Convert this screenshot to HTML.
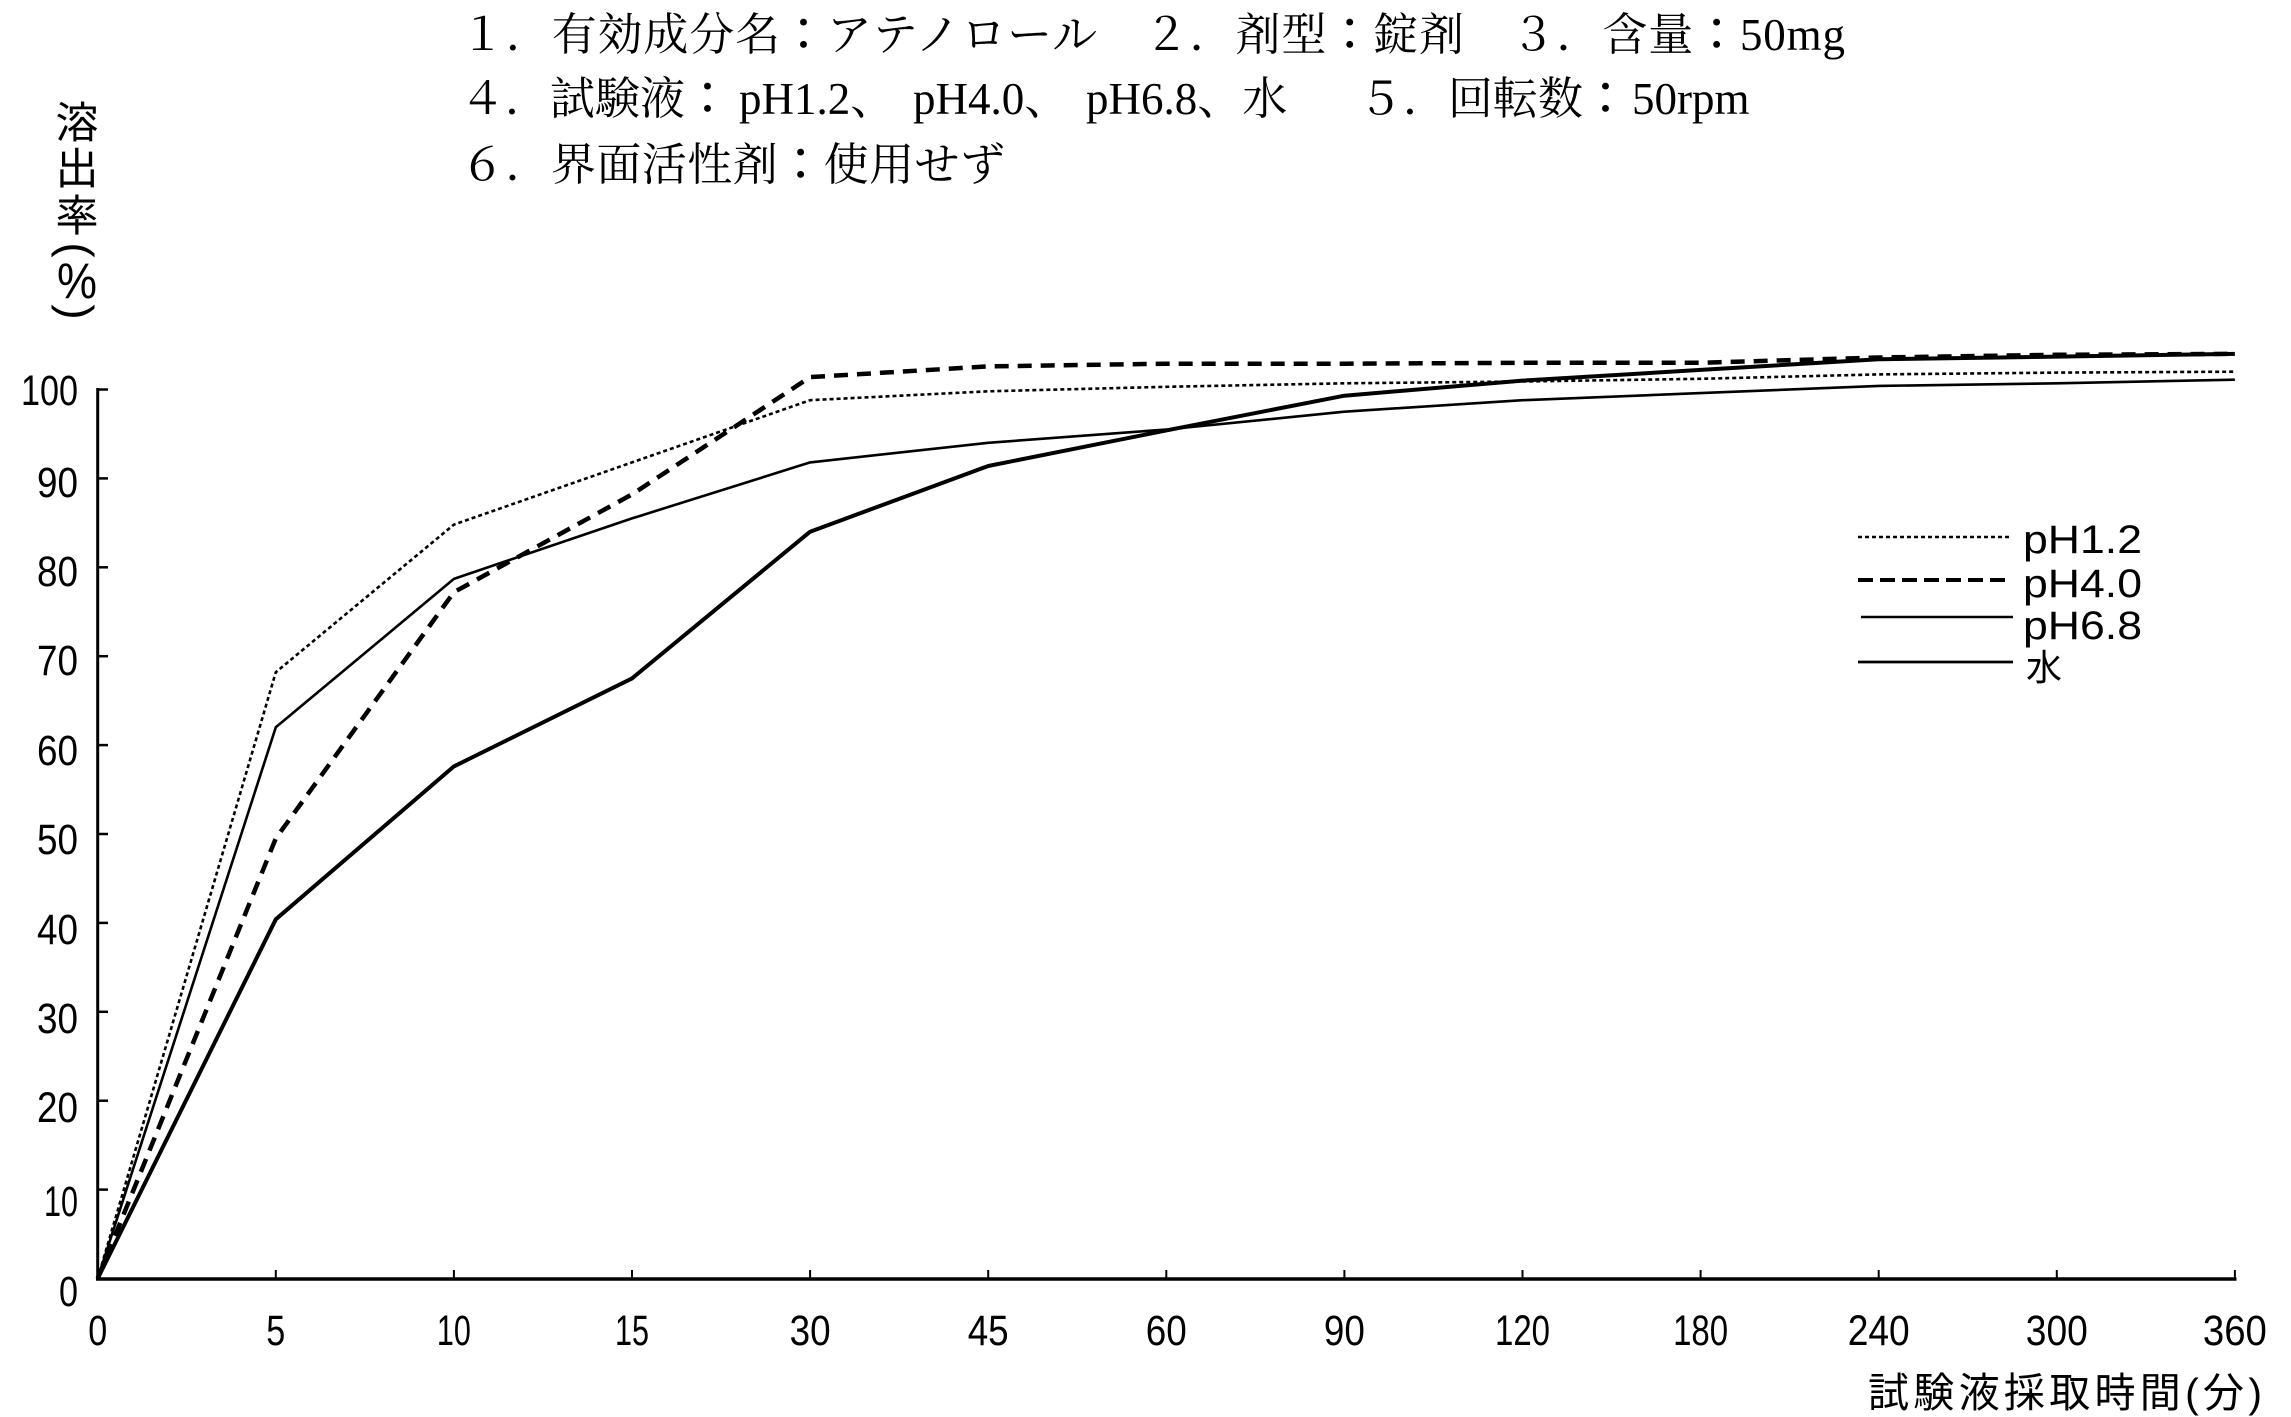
<!DOCTYPE html>
<html>
<head>
<meta charset="utf-8">
<style>
html,body{margin:0;padding:0;background:#fff;}
svg{display:block;}
.t{font-family:"Liberation Serif","Noto Serif CJK SC",serif;font-size:45px;fill:#000;}
.c{font-family:"Noto Sans CJK JP",sans-serif;}
.n{font-family:"Liberation Sans",sans-serif;font-size:43px;fill:#000;}
.j{font-family:"Liberation Sans","Noto Sans CJK JP",sans-serif;fill:#000;}
</style>
</head>
<body>
<svg width="2291" height="1417" viewBox="0 0 2291 1417" xmlns="http://www.w3.org/2000/svg">
<rect x="0" y="0" width="2291" height="1417" fill="#fff"/>

<!-- Title lines -->
<text class="t" x="460" y="50" textLength="1385" lengthAdjust="spacing">１．有効成分名<tspan class="c">：</tspan>アテノロール　２．剤型<tspan class="c">：</tspan>錠剤　３．含量<tspan class="c">：</tspan>50mg</text>
<text class="t" y="114"><tspan x="460">４．試験液</tspan><tspan class="c">：</tspan><tspan x="739">pH1.2、</tspan><tspan x="913">pH4.0、</tspan><tspan x="1086">pH6.8、水</tspan><tspan x="1358">５．回転数</tspan><tspan class="c">：</tspan><tspan x="1632">50rpm</tspan></text>
<text class="t" x="460" y="180" textLength="545" lengthAdjust="spacing">６．界面活性剤<tspan class="c">：</tspan>使用せず</text>

<!-- Y axis title (vertical) -->
<g class="j" font-size="43" text-anchor="middle">
<text x="77" y="138">溶</text>
<text x="77" y="184">出</text>
<text x="77" y="231">率</text>
</g>
<text class="j" font-size="46" text-anchor="middle" dominant-baseline="central" transform="translate(77,250) rotate(90)">(</text>
<text class="j" font-size="50" x="57" y="298" textLength="40" lengthAdjust="spacingAndGlyphs">%</text>
<text class="j" font-size="46" text-anchor="middle" dominant-baseline="central" transform="translate(77,312) rotate(90)">)</text>

<!-- Axes -->
<g stroke="#000" fill="none" stroke-linecap="butt">
<line x1="97.7" y1="388" x2="97.7" y2="1280.5" stroke-width="3"/>
<line x1="96" y1="1279" x2="2236.5" y2="1279" stroke-width="3.5"/>
<g stroke-width="2.5">
<line x1="97.7" y1="389.5" x2="108" y2="389.5"/>
<line x1="97.7" y1="478.4" x2="108" y2="478.4"/>
<line x1="97.7" y1="567.3" x2="108" y2="567.3"/>
<line x1="97.7" y1="656.2" x2="108" y2="656.2"/>
<line x1="97.7" y1="745.1" x2="108" y2="745.1"/>
<line x1="97.7" y1="834.0" x2="108" y2="834.0"/>
<line x1="97.7" y1="922.9" x2="108" y2="922.9"/>
<line x1="97.7" y1="1011.8" x2="108" y2="1011.8"/>
<line x1="97.7" y1="1100.7" x2="108" y2="1100.7"/>
<line x1="97.7" y1="1189.6" x2="108" y2="1189.6"/>
</g>
<g stroke-width="2">
<line x1="275.8" y1="1279" x2="275.8" y2="1270"/>
<line x1="453.9" y1="1279" x2="453.9" y2="1270"/>
<line x1="632.0" y1="1279" x2="632.0" y2="1270"/>
<line x1="810.1" y1="1279" x2="810.1" y2="1270"/>
<line x1="988.2" y1="1279" x2="988.2" y2="1270"/>
<line x1="1166.3" y1="1279" x2="1166.3" y2="1270"/>
<line x1="1344.4" y1="1279" x2="1344.4" y2="1270"/>
<line x1="1522.5" y1="1279" x2="1522.5" y2="1270"/>
<line x1="1700.6" y1="1279" x2="1700.6" y2="1270"/>
<line x1="1878.7" y1="1279" x2="1878.7" y2="1270"/>
<line x1="2056.8" y1="1279" x2="2056.8" y2="1270"/>
<line x1="2234.9" y1="1279" x2="2234.9" y2="1270"/>
</g>
</g>

<!-- Y tick labels -->
<g class="n" text-anchor="end">
<text x="78" y="405" textLength="57" lengthAdjust="spacingAndGlyphs">100</text>
<text x="78" y="497" textLength="41" lengthAdjust="spacingAndGlyphs">90</text>
<text x="78" y="586" textLength="41" lengthAdjust="spacingAndGlyphs">80</text>
<text x="78" y="675" textLength="41" lengthAdjust="spacingAndGlyphs">70</text>
<text x="78" y="765" textLength="41" lengthAdjust="spacingAndGlyphs">60</text>
<text x="78" y="854" textLength="41" lengthAdjust="spacingAndGlyphs">50</text>
<text x="78" y="944" textLength="41" lengthAdjust="spacingAndGlyphs">40</text>
<text x="78" y="1033" textLength="41" lengthAdjust="spacingAndGlyphs">30</text>
<text x="78" y="1122" textLength="41" lengthAdjust="spacingAndGlyphs">20</text>
<text x="78" y="1216" textLength="34" lengthAdjust="spacingAndGlyphs">10</text>
<text x="78" y="1306" textLength="19" lengthAdjust="spacingAndGlyphs">0</text>
</g>

<!-- X tick labels -->
<g class="n" text-anchor="middle">
<text x="97.7" y="1345" textLength="19" lengthAdjust="spacingAndGlyphs">0</text>
<text x="275.8" y="1345" textLength="19" lengthAdjust="spacingAndGlyphs">5</text>
<text x="453.9" y="1345" textLength="34" lengthAdjust="spacingAndGlyphs">10</text>
<text x="632.0" y="1345" textLength="34" lengthAdjust="spacingAndGlyphs">15</text>
<text x="810.1" y="1345" textLength="41" lengthAdjust="spacingAndGlyphs">30</text>
<text x="988.2" y="1345" textLength="41" lengthAdjust="spacingAndGlyphs">45</text>
<text x="1166.3" y="1345" textLength="41" lengthAdjust="spacingAndGlyphs">60</text>
<text x="1344.4" y="1345" textLength="41" lengthAdjust="spacingAndGlyphs">90</text>
<text x="1522.5" y="1345" textLength="55" lengthAdjust="spacingAndGlyphs">120</text>
<text x="1700.6" y="1345" textLength="55" lengthAdjust="spacingAndGlyphs">180</text>
<text x="1878.7" y="1345" textLength="62" lengthAdjust="spacingAndGlyphs">240</text>
<text x="2056.8" y="1345" textLength="62" lengthAdjust="spacingAndGlyphs">300</text>
<text x="2234.9" y="1345" textLength="64" lengthAdjust="spacingAndGlyphs">360</text>
</g>

<!-- X axis title -->
<text class="j" font-size="41" x="1868" y="1407" textLength="394" lengthAdjust="spacing">試験液採取時間(分)</text>

<!-- Series -->
<g fill="none" stroke="#000" stroke-linejoin="round">
<polyline stroke-width="2.6" stroke-dasharray="4 3" points="97.7,1278.5 275.8,672.2 453.9,524.6 632.0,462.4 810.1,400.2 988.2,391.3 1166.3,386.8 1344.4,383.3 1522.5,381.5 1700.6,378.8 1878.7,374.4 2056.8,372.6 2234.9,371.7"/>
<polyline stroke-width="4.5" stroke-dasharray="14 9" points="97.7,1278.5 275.8,838.4 453.9,592.2 632.0,494.4 810.1,377.1 988.2,366.4 1166.3,363.7 1344.4,363.7 1522.5,362.8 1700.6,362.8 1878.7,357.5 2056.8,354.8 2234.9,353.9"/>
<polyline stroke-width="2.6" points="97.7,1278.5 275.8,727.3 453.9,578.9 632.0,518.4 810.1,462.4 988.2,442.8 1166.3,429.5 1344.4,411.7 1522.5,400.2 1700.6,393.1 1878.7,385.9 2056.8,383.3 2234.9,379.7"/>
<polyline stroke-width="4" points="97.7,1278.5 275.8,919.3 453.9,766.4 632.0,678.4 810.1,531.7 988.2,466.0 1166.3,430.4 1344.4,395.7 1522.5,380.6 1700.6,369.9 1878.7,359.3 2056.8,356.6 2234.9,353.9"/>
</g>

<!-- Legend -->
<g fill="none" stroke="#000">
<line x1="1858" y1="537" x2="2012" y2="537" stroke-width="2.4" stroke-dasharray="4 3"/>
<line x1="1858" y1="580" x2="2012" y2="580" stroke-width="4" stroke-dasharray="15 7"/>
<line x1="1861" y1="617" x2="2013" y2="617" stroke-width="2.4"/>
<line x1="1858" y1="662" x2="2013" y2="662" stroke-width="2.8"/>
</g>
<g class="j" font-size="40">
<text x="2023" y="553" textLength="119" lengthAdjust="spacingAndGlyphs">pH1.2</text>
<text x="2023" y="597" textLength="119" lengthAdjust="spacingAndGlyphs">pH4.0</text>
<text x="2023" y="639" textLength="119" lengthAdjust="spacingAndGlyphs">pH6.8</text>
</g>
<text class="j" font-size="36" x="2026" y="680">水</text>
</svg>
</body>
</html>
